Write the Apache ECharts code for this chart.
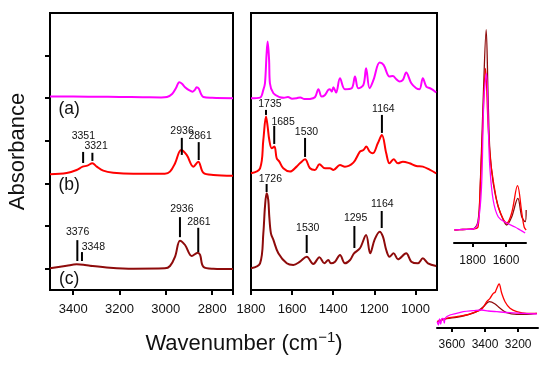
<!DOCTYPE html>
<html><head><meta charset="utf-8">
<script src="https://cdn.jsdelivr.net/npm/echarts@6/dist/echarts.min.js"></script>
<style>html,body{margin:0;padding:0;background:#fff}#c{width:554px;height:366px}</style>
</head><body><div id="c"></div>
<script>
// ---------- DATA ----------
// Left panel (3500-2710 cm-1): [wavenumber, absorbance (offset)]
const pinkLeft = [[3500,4.04],[3400,4.04],[3300,4.035],[3200,4.03],[3100,4.025],[3020,4.02],[2995,4.03],[2973,4.10],[2956,4.24],[2942,4.375],[2930,4.34],[2917,4.26],[2900,4.19],[2884,4.155],[2874,4.2],[2867,4.26],[2858,4.23],[2848,4.1],[2838,4.03],[2800,4.01],[2710,4.0]];
const redLeft = [[3500,2.216],[3428,2.246],[3385,2.317],[3359,2.394],[3339,2.418],[3317,2.474],[3298,2.394],[3270,2.30],[3227,2.254],[3140,2.23],[3004,2.23],[2982,2.277],[2960,2.474],[2934,2.786],[2910,2.669],[2881,2.394],[2860,2.512],[2838,2.254],[2795,2.2],[2710,2.183]];
const darkLeft = [[3500,0.009],[3428,0.07],[3385,0.103],[3356,0.094],[3327,0.07],[3241,0.023],[3140,0.0],[3004,0.009],[2982,0.063],[2960,0.282],[2939,0.657],[2917,0.556],[2888,0.298],[2862,0.376],[2852,0.322],[2838,0.047],[2795,0.0],[2710,-0.007]];

// Middle panel (1800-895 cm-1)
const pinkMid = [[1800,4.0],[1756,4.015],[1740,4.195],[1732,4.351],[1724,5.056],[1719,5.329],[1712,4.899],[1708,4.351],[1691,4.117],[1659,4.023],[1640,4.01],[1620,4.03],[1600,3.99],[1578,4.0],[1560,4.02],[1540,3.98],[1513,3.984],[1489,4.023],[1472,4.211],[1456,4.038],[1440,4.077],[1424,4.195],[1416,4.211],[1407,4.156],[1399,4.257],[1386,4.132],[1367,4.469],[1343,4.211],[1310,4.234],[1294,4.508],[1278,4.234],[1253,4.312],[1240,4.703],[1223,4.234],[1204,4.43],[1174,4.837],[1155,4.782],[1126,4.508],[1110,4.523],[1093,4.445],[1077,4.39],[1061,4.43],[1045,4.602],[1020,4.351],[996,4.234],[980,4.211],[964,4.469],[947,4.273],[929,4.234],[915,4.195],[899,4.132]];
const redMid = [[1800,2.239],[1756,2.356],[1740,3.021],[1727,3.569],[1719,3.334],[1711,3.021],[1699,2.826],[1686,2.865],[1675,2.591],[1662,2.512],[1643,2.356],[1610,2.278],[1578,2.395],[1562,2.473],[1537,2.567],[1513,2.356],[1489,2.317],[1467,2.45],[1440,2.356],[1416,2.356],[1399,2.317],[1367,2.434],[1343,2.395],[1302,2.489],[1270,2.747],[1253,2.786],[1239,2.865],[1223,2.747],[1207,2.708],[1183,2.943],[1163,3.138],[1142,2.708],[1126,2.473],[1106,2.567],[1085,2.473],[1061,2.512],[1028,2.473],[996,2.411],[964,2.395],[929,2.317],[899,2.239]];
const darkMid = [[1800,0.009],[1756,0.126],[1740,0.83],[1732,1.456],[1724,1.769],[1716,1.613],[1711,1.221],[1703,0.83],[1691,0.674],[1667,0.361],[1626,0.126],[1594,0.087],[1562,0.165],[1529,0.282],[1497,0.11],[1467,0.267],[1443,0.126],[1424,0.204],[1411,0.126],[1391,0.165],[1367,0.322],[1343,0.126],[1318,0.204],[1299,0.361],[1270,0.478],[1240,0.791],[1220,0.361],[1199,0.674],[1174,0.869],[1158,0.752],[1142,0.439],[1126,0.282],[1106,0.361],[1085,0.22],[1045,0.361],[1020,0.165],[988,0.126],[964,0.243],[939,0.126],[899,0.063]];

// Inset: carbonyl region (normalized)
const pinkCO = [[1909,1.3],[1860,1.35],[1798,1.4],[1768,2.0],[1747,5.6],[1733,14.3],[1717,16.97],[1705,11.0],[1697,7.6],[1677,4.3],[1646,2.6],[1596,2.0],[1546,1.6],[1515,1.3],[1485,1.0]];
const redCO = [[1909,1.3],[1860,1.35],[1798,1.4],[1768,1.6],[1758,4.3],[1741,11.0],[1723,17.47],[1707,11.6],[1693,8.3],[1677,6.3],[1667,5.3],[1646,3.6],[1596,2.0],[1566,3.0],[1531,5.73],[1505,3.0],[1491,1.6],[1479,1.3]];
const darkCO = [[1909,1.3],[1860,1.35],[1798,1.4],[1768,2.2],[1754,6.0],[1737,14.3],[1719,21.33],[1707,14.3],[1697,9.3],[1677,6.0],[1646,3.6],[1616,2.3],[1596,1.8],[1566,2.6],[1529,4.47],[1505,2.6],[1485,2.13],[1479,3.3]];

// Inset: N-H / O-H region
const pinkNH = [[3689,0.63],[3682,0.3],[3675,0.9],[3668,0.4],[3660,0.95],[3653,0.97],[3646,0.5],[3640,1.0],[3612,1.3],[3572,1.47],[3531,1.63],[3471,1.73],[3420,1.8],[3380,1.7],[3329,1.63],[3249,1.53],[3168,1.47],[3087,1.4]];
const redNH = [[3689,0.63],[3632,0.97],[3572,1.13],[3511,1.3],[3451,1.63],[3420,1.87],[3390,2.63],[3370,2.97],[3350,3.47],[3340,3.55],[3333,3.8],[3315,4.4],[3299,3.47],[3279,2.63],[3249,1.97],[3208,1.63],[3148,1.47],[3087,1.47]];
const darkNH = [[3689,0.63],[3632,0.93],[3572,1.07],[3511,1.3],[3451,1.63],[3410,2.13],[3374,2.63],[3339,2.4],[3309,1.97],[3269,1.53],[3208,1.37],[3148,1.37],[3087,1.47]];

// Peak annotations: [line wavenumber, from, to, text wavenumber, text y, label]
const annotLeft = [
  [3357,2.48,2.74,3356,3.115,'3351'],
  [3317,2.53,2.72,3301,2.88,'3321'],
  [2931,2.67,3.07,2930,3.232,'2936'],
  [2858,2.55,2.97,2852,3.115,'2861'],
  [3382,0.18,0.67,3381,0.861,'3376'],
  [3362,0.18,0.39,3313,0.509,'3348'],
  [2939,0.74,1.21,2931,1.401,'2936'],
  [2860,0.39,0.96,2857,1.096,'2861']
];
const annotMid = [
  [1727,3.608,3.726,1708,3.866,'1735'],
  [1687,2.927,3.35,1644,3.444,'1685'],
  [1537,2.622,3.068,1530,3.209,'1530'],
  [1163,3.186,3.608,1156,3.749,'1164'],
  [1724,1.80,1.988,1706,2.106,'1726'],
  [1529,0.368,0.791,1524,0.955,'1530'],
  [1297,0.486,1.002,1291,1.19,'1295'],
  [1164,0.955,1.354,1161,1.519,'1164']
];
const panelLabels = [[3417,3.744,'(a)'],[3417,1.953,'(b)'],[3417,-0.254,'(c)']];

const leftTicks = [2800,3000,3200,3400];
const midTicks = [1000,1200,1400,1600,1800];
const coTicks = [1600,1800];
const nhTicks = [3200,3400,3600];
const yTicks = [0,1,2,3,4,5];

// ---------- CHART ----------
const FONT = 'Liberation Sans, Arial, Helvetica, sans-serif';
const PINK = '#ff00ff', RED = '#ff0000', DARK = '#8e0b0b';
const chart = echarts.init(document.getElementById('c'), null, {renderer:'canvas'});
const plain = v => String(v);

function annotSeries(list, ai){
  return {
    type:'custom', xAxisIndex:ai, yAxisIndex:ai, z:5, silent:true,
    data: list.map(a => a.slice(0,5)),
    renderItem: function(params, api){
      const p0 = api.coord([api.value(0), api.value(1)]);
      const p1 = api.coord([api.value(0), api.value(2)]);
      const pt = api.coord([api.value(3), api.value(4)]);
      return {type:'group', children:[
        {type:'line', shape:{x1:p0[0],y1:p0[1],x2:p1[0],y2:p1[1]}, style:{stroke:'#000', lineWidth:2}},
        {type:'text', x:pt[0], y:pt[1], style:{text:list[params.dataIndex][5], fill:'#111', font:'10.5px ' + FONT, align:'center', verticalAlign:'middle'}}
      ]};
    }
  };
}
function line(data, color, ai, w){
  return {type:'line', data:data, xAxisIndex:ai, yAxisIndex:ai, showSymbol:false, smooth:0.35,
    lineStyle:{color:color, width:w}, itemStyle:{color:color}, silent:true};
}
const mainTick = {show:true, length:5, lineStyle:{color:'#000', width:2}};
const mainLabel = {color:'#111', fontSize:13, fontFamily:FONT, margin:13, formatter:plain};

chart.setOption({
  animation:false,
  backgroundColor:'#fff',
  grid:[
    {left:50, top:13, width:183, height:277, show:true, borderColor:'#000', borderWidth:2},
    {left:251, top:13, width:186, height:277, show:true, borderColor:'#000', borderWidth:2},
    {left:454, top:13, width:72, height:230},
    {left:437, top:270, width:101, height:58}
  ],
  xAxis:[
    {gridIndex:0, type:'value', inverse:true, min:2710, max:3500, axisLine:{show:false, onZero:false}, splitLine:{show:false},
      axisTick:Object.assign({customValues:[2710].concat(leftTicks)}, mainTick),
      axisLabel:Object.assign({customValues:leftTicks}, mainLabel)},
    {gridIndex:1, type:'value', inverse:true, min:895, max:1800, axisLine:{show:false, onZero:false}, splitLine:{show:false},
      axisTick:Object.assign({customValues:midTicks}, mainTick),
      axisLabel:Object.assign({customValues:midTicks}, mainLabel)},
    {gridIndex:2, type:'value', inverse:true, min:1480, max:1912, splitLine:{show:false},
      axisLine:{show:true, onZero:false, lineStyle:{color:'#000', width:2}},
      axisTick:{show:true, customValues:coTicks, length:4, lineStyle:{color:'#000', width:2}},
      axisLabel:{customValues:coTicks, color:'#111', fontSize:12, fontFamily:FONT, margin:12, formatter:plain}},
    {gridIndex:3, type:'value', inverse:true, min:3080, max:3690, splitLine:{show:false},
      axisLine:{show:true, onZero:false, lineStyle:{color:'#000', width:2}},
      axisTick:{show:true, customValues:nhTicks, length:4, lineStyle:{color:'#000', width:2}},
      axisLabel:{customValues:nhTicks, color:'#111', fontSize:12, fontFamily:FONT, margin:11, formatter:plain}}
  ],
  yAxis:[
    {gridIndex:0, type:'value', min:-0.5, max:6, axisLine:{show:false, onZero:false}, splitLine:{show:false},
      axisTick:Object.assign({customValues:yTicks}, mainTick), axisLabel:{show:false},
      name:'Absorbance', nameLocation:'middle', nameGap:21, nameRotate:90,
      nameTextStyle:{fontSize:22, color:'#111', fontFamily:FONT}},
    {gridIndex:1, type:'value', min:-0.5, max:6, axisLine:{show:false, onZero:false}, axisTick:{show:false}, axisLabel:{show:false}, splitLine:{show:false}},
    {gridIndex:2, type:'value', min:0, max:23, show:false},
    {gridIndex:3, type:'value', min:0, max:5.8, show:false}
  ],
  graphic:[
    {type:'text', x:244, y:344, style:{text:'Wavenumber (cm{sup|−1})', align:'center', verticalAlign:'middle',
      font:'22px ' + FONT, fill:'#111', rich:{sup:{fontSize:15, fontFamily:FONT, fill:'#111', padding:[0,0,12,0]}}}}
  ],
  series:[
    line(pinkLeft, PINK, 0, 2), line(redLeft, RED, 0, 2), line(darkLeft, DARK, 0, 2),
    line(pinkMid, PINK, 1, 2), line(redMid, RED, 1, 2), line(darkMid, DARK, 1, 2),
    line(darkCO, DARK, 2, 1.3), line(redCO, RED, 2, 1.3), line(pinkCO, PINK, 2, 1.3),
    line(darkNH, DARK, 3, 1.3), line(redNH, RED, 3, 1.3), line(pinkNH, PINK, 3, 1.3),
    annotSeries(annotLeft, 0), annotSeries(annotMid, 1),
    {type:'custom', xAxisIndex:0, yAxisIndex:0, z:5, silent:true,
      data: panelLabels.map(p => [p[0], p[1]]),
      renderItem: function(params, api){
        const pt = api.coord([api.value(0), api.value(1)]);
        return {type:'text', x:pt[0], y:pt[1], style:{text:panelLabels[params.dataIndex][2], fill:'#111',
          font:'17.5px ' + FONT, align:'center', verticalAlign:'middle'}};
      }}
  ]
});
</script></body></html>
